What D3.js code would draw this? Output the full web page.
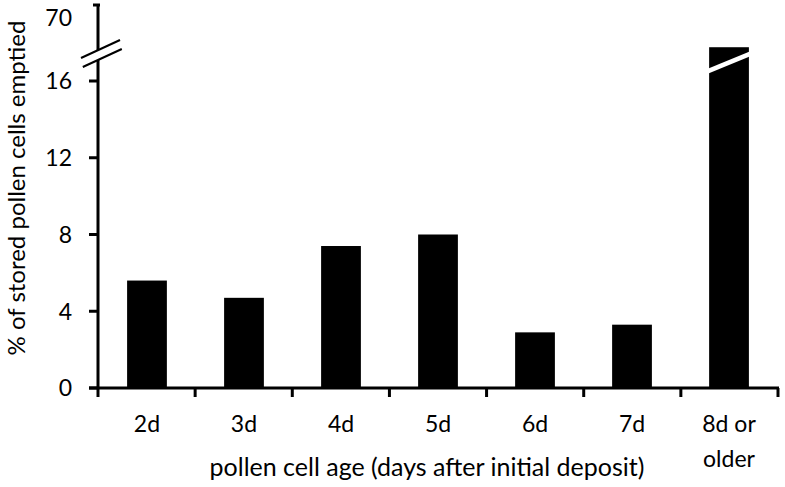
<!DOCTYPE html>
<meta charset="utf-8">
<script src="https://d3js.org/d3.v7.min.js"></script>
<style>
  body { margin: 0; background: #fff; }
  text { font-family: Lato, "Open Sans", sans-serif; fill: #000; }
</style>
<div id="chart"></div>
<script>
  // data
  var ages = ["2d", "3d", "4d", "5d", "6d", "7d", "8d or older"];
  var emptied = [5.6, 4.7, 7.4, 8.0, 2.9, 3.3, 40];
  var yTicks = [0, 4, 8, 12, 16];
  var topTick = 70;

  var width = 785, height = 487;
  var left = 98, right = 778, bottom = 388;

  var svg = d3.select("#chart").append("svg")
    .attr("width", width)
    .attr("height", height);

  var x = d3.scaleBand()
    .domain(ages)
    .range([left, right])
    .paddingInner(0.59)
    .paddingOuter(0.3);

  // broken axis: 0-16 linear, then compressed up to 70
  var y = d3.scaleLinear()
    .domain([0, 16, 70])
    .range([bottom, 81, 5]);

  // bars
  svg.selectAll("rect.bar")
    .data(ages)
    .enter()
    .append("rect")
    .attr("class", "bar")
    .attr("x", function (d) { return x(d); })
    .attr("width", x.bandwidth())
    .attr("y", function (d, i) { return y(emptied[i]); })
    .attr("height", function (d, i) { return bottom - y(emptied[i]); })
    .attr("fill", "#000");

  // white break stripe over the tall bar
  var last = ages[ages.length - 1];
  var bx = x(last), bw = x.bandwidth();
  svg.append("polygon")
    .attr("points", [
      [bx - 2, 69], [bx + bw + 2, 51], [bx + bw + 2, 56], [bx - 2, 74]
    ].join(" "))
    .attr("fill", "#fff");

  // y axis
  var yAxis = svg.append("g");
  yAxis.append("line")
    .attr("x1", left).attr("x2", left)
    .attr("y1", y(topTick) - 1).attr("y2", bottom + 1)
    .attr("stroke", "#000").attr("stroke-width", 3);

  yAxis.selectAll("line.tick")
    .data(yTicks)
    .enter()
    .append("line")
    .attr("x1", left - 9).attr("x2", left)
    .attr("y1", function (d) { return y(d); })
    .attr("y2", function (d) { return y(d); })
    .attr("stroke", "#000").attr("stroke-width", 3);

  yAxis.selectAll("text.tick")
    .data(yTicks)
    .enter()
    .append("text")
    .attr("x", left - 26)
    .attr("y", function (d) { return y(d); })
    .attr("dy", "0.36em")
    .attr("text-anchor", "end")
    .style("font-size", "23px")
    .text(function (d) { return d; });

  yAxis.append("line")
    .attr("x1", left - 5).attr("x2", left + 2)
    .attr("y1", y(topTick)).attr("y2", y(topTick))
    .attr("stroke", "#000").attr("stroke-width", 3);

  yAxis.append("text")
    .attr("x", left - 26)
    .attr("y", 18)
    .attr("dy", "0.36em")
    .attr("text-anchor", "end")
    .style("font-size", "23px")
    .text(topTick);

  // axis break marks
  svg.append("polygon")
    .attr("points", [[81, 58], [120, 40], [122, 49], [83, 67]].join(" "))
    .attr("fill", "#fff");
  svg.selectAll("line.brk")
    .data([0, 9])
    .enter()
    .append("line")
    .attr("x1", function (d) { return 81 + d * 0.2; })
    .attr("y1", function (d) { return 58 + d; })
    .attr("x2", function (d) { return 120 + d * 0.2; })
    .attr("y2", function (d) { return 40 + d; })
    .attr("stroke", "#000").attr("stroke-width", 2);

  // x axis
  svg.append("line")
    .attr("x1", left - 9).attr("x2", right + 1)
    .attr("y1", bottom).attr("y2", bottom)
    .attr("stroke", "#000").attr("stroke-width", 3);

  var bounds = d3.range(ages.length + 1).map(function (i) { return left + i * (right - left) / ages.length; });
  svg.selectAll("line.xtick")
    .data(bounds)
    .enter()
    .append("line")
    .attr("x1", function (d) { return d; })
    .attr("x2", function (d) { return d; })
    .attr("y1", bottom).attr("y2", bottom + 9)
    .attr("stroke", "#000").attr("stroke-width", 3);

  svg.selectAll("text.xlab")
    .data(ages)
    .enter()
    .append("text")
    .attr("text-anchor", "middle")
    .attr("x", function (d) { return x(d) + x.bandwidth() / 2; })
    .attr("y", 432)
    .style("font-size", "23px")
    .each(function (d) {
      var t = d3.select(this);
      var parts = d === "8d or older" ? ["8d or", "older"] : [d];
      parts.forEach(function (p, i) {
        t.append("tspan")
          .attr("x", x(d) + x.bandwidth() / 2)
          .attr("dy", i === 0 ? 0 : 35)
          .text(p);
      });
    });

  // axis titles
  svg.append("text")
    .attr("x", 427)
    .attr("y", 476)
    .attr("text-anchor", "middle")
    .style("font-size", "25px")
    .text("pollen cell age (days after initial deposit)");

  svg.append("text")
    .attr("transform", "translate(25,188) rotate(-90)")
    .attr("text-anchor", "middle")
    .style("font-size", "24px")
    .text("% of stored pollen cells emptied");
</script>
